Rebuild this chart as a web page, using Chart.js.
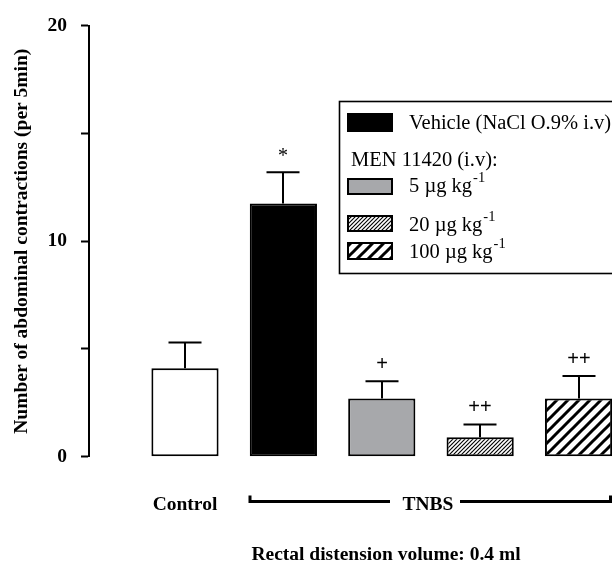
<!DOCTYPE html>
<html>
<head>
<meta charset="utf-8">
<script src="https://cdn.jsdelivr.net/npm/chart.js@4/dist/chart.umd.min.js"></script>
<style>
  html, body { margin: 0; padding: 0; background: #fff; }
  #wrap { width: 612px; height: 563px; position: relative; }
</style>
</head>
<body>
<div id="wrap"><canvas id="c" width="612" height="563"></canvas></div>
<script>
// ---- data ----
const categories = ['Control', 'Vehicle', 'MEN 11420 5 µg/kg', 'MEN 11420 20 µg/kg', 'MEN 11420 100 µg/kg'];
const means = [4.1, 11.75, 2.7, 0.9, 2.7];
const sems = [1.2, 1.45, 0.8, 0.6, 1.05];
const marks = ['', '*', '+', '++', '++'];
const yTickLabels = [0, 10, 20];
const legendLabels = ['Vehicle (NaCl O.9% i.v)', 'MEN 11420 (i.v):', '5 µg kg', '20 µg kg', '100 µg kg'];
const legendSup = ['', '', '-1', '-1', '-1'];
const groupLabels = ['Control', 'TNBS'];
const yTitle = 'Number of abdominal contractions (per 5min)';
const xTitle = 'Rectal distension volume: 0.4 ml';

const SERIF = "'Liberation Serif', 'Times New Roman', serif";
const SANS = "'Liberation Sans', Arial, sans-serif";

const canvas = document.getElementById('c');
const ctx0 = canvas.getContext('2d');
function hatch(period, lw, bg) {
  const c = document.createElement('canvas');
  c.width = period; c.height = period;
  const g = c.getContext('2d');
  g.fillStyle = bg; g.fillRect(0, 0, period, period);
  g.strokeStyle = '#000'; g.lineWidth = lw; g.lineCap = 'square';
  g.beginPath();
  for (let k = -1; k <= 1; k++) { g.moveTo(k * period, period); g.lineTo(k * period + period, 0); }
  g.stroke();
  return ctx0.createPattern(c, 'repeat');
}
const GRAY = '#a7a8ab';
const fineHatch = hatch(4, 1.1, '#fff');
const thickHatch = hatch(11, 3, '#fff');
const fills = ['#ffffff', '#000000', GRAY, fineHatch, thickHatch];

const errPlugin = {
  id: 'errs',
  afterDatasetsDraw(chart) {
    const { ctx } = chart;
    const ys = chart.scales.y;
    const meta = chart.getDatasetMeta(0);
    ctx.save();
    ctx.strokeStyle = '#000';
    ctx.lineWidth = 2;
    meta.data.forEach((bar, i) => {
      const x = Math.round(bar.x);
      const yb = ys.getPixelForValue(means[i]);
      const yt = ys.getPixelForValue(means[i] + sems[i]);
      ctx.beginPath();
      ctx.moveTo(x, yb); ctx.lineTo(x, yt);
      ctx.moveTo(x - 16.5, yt); ctx.lineTo(x + 16.5, yt);
      ctx.stroke();
      const m = marks[i];
      if (m) {
        ctx.fillStyle = '#000';
        ctx.textAlign = 'center';
        ctx.textBaseline = 'alphabetic';
        if (m === '*') {
          ctx.font = '20px ' + SERIF;
          ctx.fillText(m, x, yt - 10);
        } else {
          ctx.font = '20px ' + SANS;
          ctx.fillText(m, x, yt - 11);
        }
      }
    });
    ctx.restore();
  },
  afterDraw(chart) {
    const { ctx } = chart;
    const meta = chart.getDatasetMeta(0);
    ctx.save();
    // ---- legend ----
    ctx.strokeStyle = '#000';
    ctx.lineWidth = 1.6;
    ctx.strokeRect(339.5, 101.5, 300, 172);
    const sx = 347, sw = 46;
    const sw1 = [113, 19], sw2 = [178, 17], sw3 = [215, 17], sw4 = [242, 18];
    ctx.fillStyle = '#000';
    ctx.fillRect(sx, sw1[0], sw, sw1[1]);
    [[sw2, GRAY], [sw3, fineHatch], [sw4, thickHatch]].forEach(([s, f]) => {
      ctx.fillStyle = f;
      ctx.fillRect(sx, s[0], sw, s[1]);
      ctx.lineWidth = 2;
      ctx.strokeRect(sx + 1, s[0] + 1, sw - 2, s[1] - 2);
    });
    ctx.fillStyle = '#000';
    ctx.textAlign = 'left';
    ctx.textBaseline = 'alphabetic';
    const font = '20.5px ' + SERIF;
    const supFont = '14.5px ' + SERIF;
    const rows = [
      [409, 129], [351, 166], [409, 192], [409, 231], [409, 258]
    ];
    legendLabels.forEach((t, i) => {
      ctx.font = font;
      ctx.fillText(t, rows[i][0], rows[i][1]);
      if (legendSup[i]) {
        const w = ctx.measureText(t).width;
        ctx.font = supFont;
        ctx.fillText(legendSup[i], rows[i][0] + w + 1, rows[i][1] - 10);
      }
    });
    // ---- group labels ----
    ctx.font = 'bold 19.5px ' + SERIF;
    ctx.textAlign = 'center';
    ctx.fillText(groupLabels[0], meta.data[0].x, 510);
    const tx = (meta.data[2].x + meta.data[3].x) / 2 - 3;
    ctx.fillText(groupLabels[1], tx, 510);
    // bracket
    ctx.lineWidth = 3;
    ctx.lineCap = 'butt';
    ctx.beginPath();
    ctx.moveTo(250, 495.5); ctx.lineTo(250, 501.5); ctx.lineTo(390, 501.5);
    ctx.moveTo(460, 501.5); ctx.lineTo(610.5, 501.5); ctx.lineTo(610.5, 495.5);
    ctx.stroke();
    // x title
    ctx.fillText(xTitle, 386, 560);
    ctx.restore();
  }
};

new Chart(canvas, {
  type: 'bar',
  data: {
    datasets: [{
      label: 'Abdominal contractions',
      data: means.map((v, i) => ({ x: i + 1, y: v })),
      backgroundColor: fills,
      borderColor: '#000',
      borderWidth: 2,
      borderSkipped: false,
      categoryPercentage: 1,
      barPercentage: 0.7
    }]
  },
  options: {
    responsive: false,
    animation: false,
    devicePixelRatio: 1,
    layout: { padding: { top: 24, bottom: 106.3, left: 0, right: 0 } },
    plugins: { legend: { display: false }, tooltip: { enabled: false } },
    scales: {
      x: {
        type: 'linear',
        display: false,
        offset: false,
        min: 0.0244,
        max: 5.34
      },
      y: {
        min: 0,
        max: 20,
        afterFit: (axis) => { axis.width = 89; },
        ticks: {
          stepSize: 5,
          padding: 14,
          color: '#000',
          font: { family: SERIF, size: 19.5, weight: 'bold' },
          callback: (v) => yTickLabels.includes(v) ? String(v) : ''
        },
        grid: {
          drawOnChartArea: false,
          drawTicks: true,
          tickLength: 8,
          tickColor: '#000',
          tickWidth: 2
        },
        border: { display: true, color: '#000', width: 2 },
        title: {
          display: true,
          text: yTitle,
          color: '#000',
          font: { family: SERIF, size: 19.5, weight: 'bold' },
          padding: { top: 10, bottom: 0 }
        }
      }
    }
  },
  plugins: [errPlugin]
});
</script>
</body>
</html>
